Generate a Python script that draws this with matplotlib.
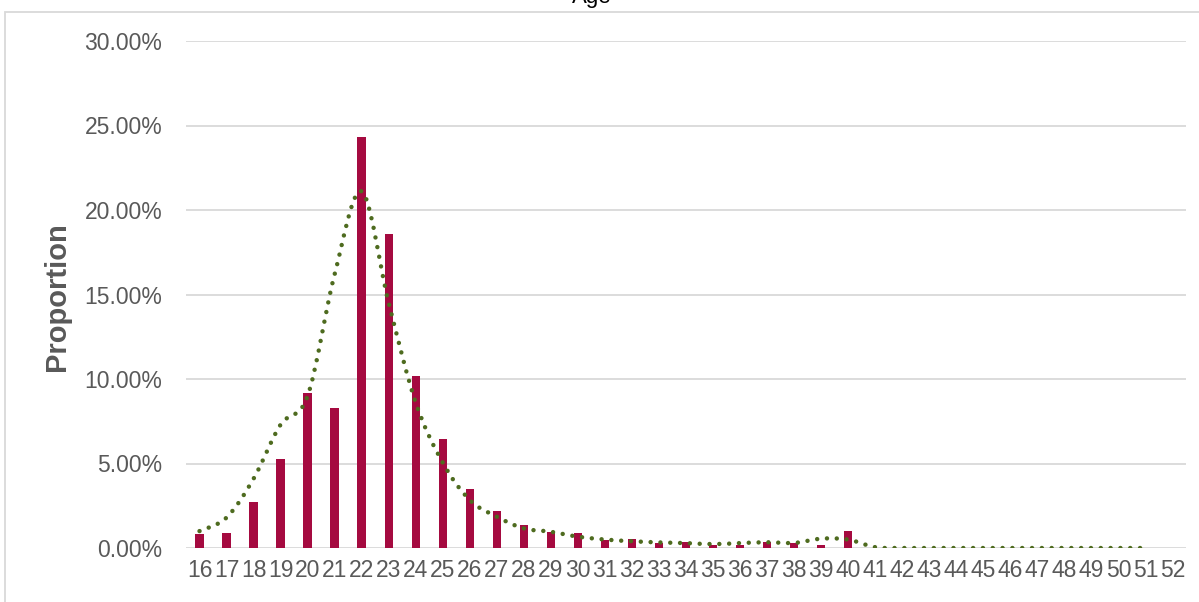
import matplotlib
matplotlib.use("Agg")
import matplotlib.pyplot as plt
import numpy as np
from matplotlib.path import Path
from matplotlib.patches import PathPatch, Rectangle

plt.rcParams['font.family'] = ['Liberation Sans', 'DejaVu Sans']

ages = list(range(16, 53))
# bar values, % of respondents
proportion = [0.83, 0.89, 2.70, 5.25, 9.20, 8.30, 24.30, 18.60, 10.20, 6.43,
              3.50, 2.17, 1.38, 0.95, 0.89, 0.47, 0.53, 0.29, 0.36, 0.20,
              0.20, 0.36, 0.28, 0.15, 0.99, 0, 0, 0, 0, 0,
              0, 0, 0, 0, 0, 0, 0]
# dotted smooth line (16..51)
trend = [1.00, 1.80, 4.10, 7.30, 9.00, 16.20, 21.10, 14.50, 8.60, 5.05,
         2.84, 1.85, 1.16, 0.96, 0.67, 0.50, 0.40, 0.33, 0.29, 0.23,
         0.29, 0.34, 0.30, 0.55, 0.50, 0.05, 0, 0, 0, 0,
         0, 0, 0, 0, 0, 0]
yticks = [0, 5, 10, 15, 20, 25, 30]

bar_color = '#A50A40'
line_color = '#4E6B1F'
grid_color = '#D9D9D9'
text_color = '#595959'

fig = plt.figure(figsize=(11.99, 6.02), dpi=100)
ax = fig.add_axes([186 / 1199, 1 - 548 / 602, 1000 / 1199, 507 / 602])

x = np.arange(len(ages))
ax.bar(x, np.array(proportion) / 100, width=0.31, color=bar_color, zorder=2)

# smooth curve like excel: bezier through the points
px = x[:len(trend)].astype(float)
py = np.array(trend) / 100
verts = [(px[0], py[0])]
codes = [Path.MOVETO]
n = len(px)
for i in range(n - 1):
    p0 = np.array([px[max(i - 1, 0)], py[max(i - 1, 0)]])
    p1 = np.array([px[i], py[i]])
    p2 = np.array([px[i + 1], py[i + 1]])
    p3 = np.array([px[min(i + 2, n - 1)], py[min(i + 2, n - 1)]])
    c1 = p1 + (p2 - p0) / 6
    c2 = p2 - (p3 - p1) / 6
    verts += [tuple(c1), tuple(c2), tuple(p2)]
    codes += [Path.CURVE4] * 3
patch = PathPatch(Path(verts, codes), fill=False, edgecolor=line_color,
                  linewidth=3.2, linestyle=(0, (0.01, 2.2)), capstyle='round',
                  zorder=3)
ax.add_patch(patch)

ax.set_xlim(-0.5, len(ages) - 0.5)
ax.set_ylim(0, 0.30)
ax.set_yticks([v / 100 for v in yticks])
ax.set_yticklabels(['%.2f%%' % v for v in yticks])
ax.set_xticks(x)
ax.set_xticklabels([str(a) for a in ages])
ax.grid(axis='y', color=grid_color, linewidth=1.3, zorder=0)
for s in ax.spines.values():
    s.set_visible(False)
ax.tick_params(axis='both', length=0, labelsize=16.5, colors=text_color)
ax.tick_params(axis='y', pad=17)
ax.tick_params(axis='x', pad=8)
ax.set_ylabel('Proportion', fontsize=21, fontweight='bold', color=text_color)
ax.yaxis.set_label_coords(-0.115, 0.495)

fig.text(592 / 1199, 1 - 3 / 602, 'Age', ha='center', va='baseline',
         fontsize=16, color='black')

# outer chart border (cropped)
fig.patches.append(Rectangle((5 / 1199, -0.1), 1.2, 1 - 12 / 602 + 0.1,
                             transform=fig.transFigure, fill=False,
                             edgecolor=grid_color, linewidth=1.3))

fig.savefig('out.png', dpi=100)
